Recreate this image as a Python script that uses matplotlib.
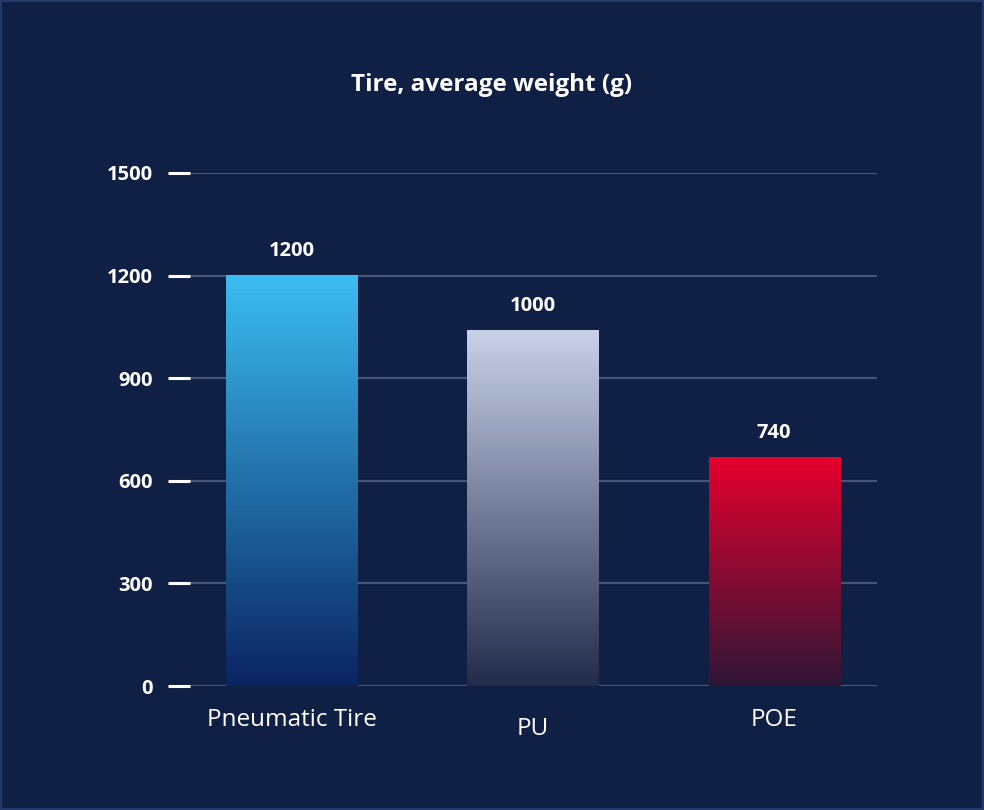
import numpy as np
import matplotlib
matplotlib.use('Agg')
import matplotlib.pyplot as plt
from matplotlib.colors import LinearSegmentedColormap
from matplotlib.transforms import ScaledTranslation

plt.rcParams['font.family'] = ['Open Sans', 'DejaVu Sans']

# data
categories = ['Pneumatic Tire', 'PU', 'POE']
bar_heights = [1200, 1040, 667]
value_labels = ['1200', '1000', '740']
y_ticks = [0, 300, 600, 900, 1200, 1500]
title = 'Tire, average weight (g)'

# colors (top, bottom) for each bar gradient
grad_colors = [('#3bbdf2', '#0a2460'),
               ('#c9d1e9', '#222c4a'),
               ('#e6002e', '#2f1636')]

bg = '#0f2044'
grid_col = '#46557a'

fig = plt.figure(figsize=(9.84, 8.10), dpi=100)
fig.patch.set_facecolor(bg)
fig.patch.set_edgecolor('#25396b')
fig.patch.set_linewidth(1.5)

ax = fig.add_axes([190 / 984, 1 - 686 / 810, (877 - 190) / 984, (686 - 173) / 810])
ax.set_facecolor(bg)

x = np.arange(len(categories))
width = 0.543

for xi, h, lab, (c_top, c_bot) in zip(x, bar_heights, value_labels, grad_colors):
    cmap = LinearSegmentedColormap.from_list('g', [c_bot, c_top])
    grad = np.linspace(0, 1, 256).reshape(-1, 1)
    ax.imshow(grad, extent=[xi - width / 2, xi + width / 2, 0, h], origin='lower',
              cmap=cmap, aspect='auto', zorder=3)
    ax.text(xi, h + 72, lab, ha='center', va='center', color='white',
            fontsize=14.5, fontweight='bold', zorder=4)

ax.set_xlim(-0.4207, 2.4269)
ax.set_ylim(0, 1500)

for yt in y_ticks:
    ax.axhline(yt, color=grid_col, lw=1.6, zorder=1)

for s in ax.spines.values():
    s.set_visible(False)

ax.set_yticks(y_ticks)
ax.set_yticklabels([str(v) for v in y_ticks])
ax.tick_params(axis='y', length=16, width=2.2, color='white', pad=11,
               labelcolor='white', labelsize=14.5)
for t in ax.get_yticklabels():
    t.set_fontweight('bold')

ax.set_xticks(x)
ax.set_xticklabels(categories)
ax.tick_params(axis='x', length=0, pad=16, labelcolor='white', labelsize=17.5)
# the middle label sits a little lower in the original
pu_label = ax.get_xticklabels()[1]
pu_label.set_transform(pu_label.get_transform() + ScaledTranslation(0, -6 / 72, fig.dpi_scale_trans))

fig.text(0.5, 1 - 85 / 810, title, ha='center', va='center', color='white',
         fontsize=17.5, fontweight='bold')

fig.savefig('out.png', dpi=100, facecolor=fig.get_facecolor(), edgecolor=fig.get_edgecolor())
